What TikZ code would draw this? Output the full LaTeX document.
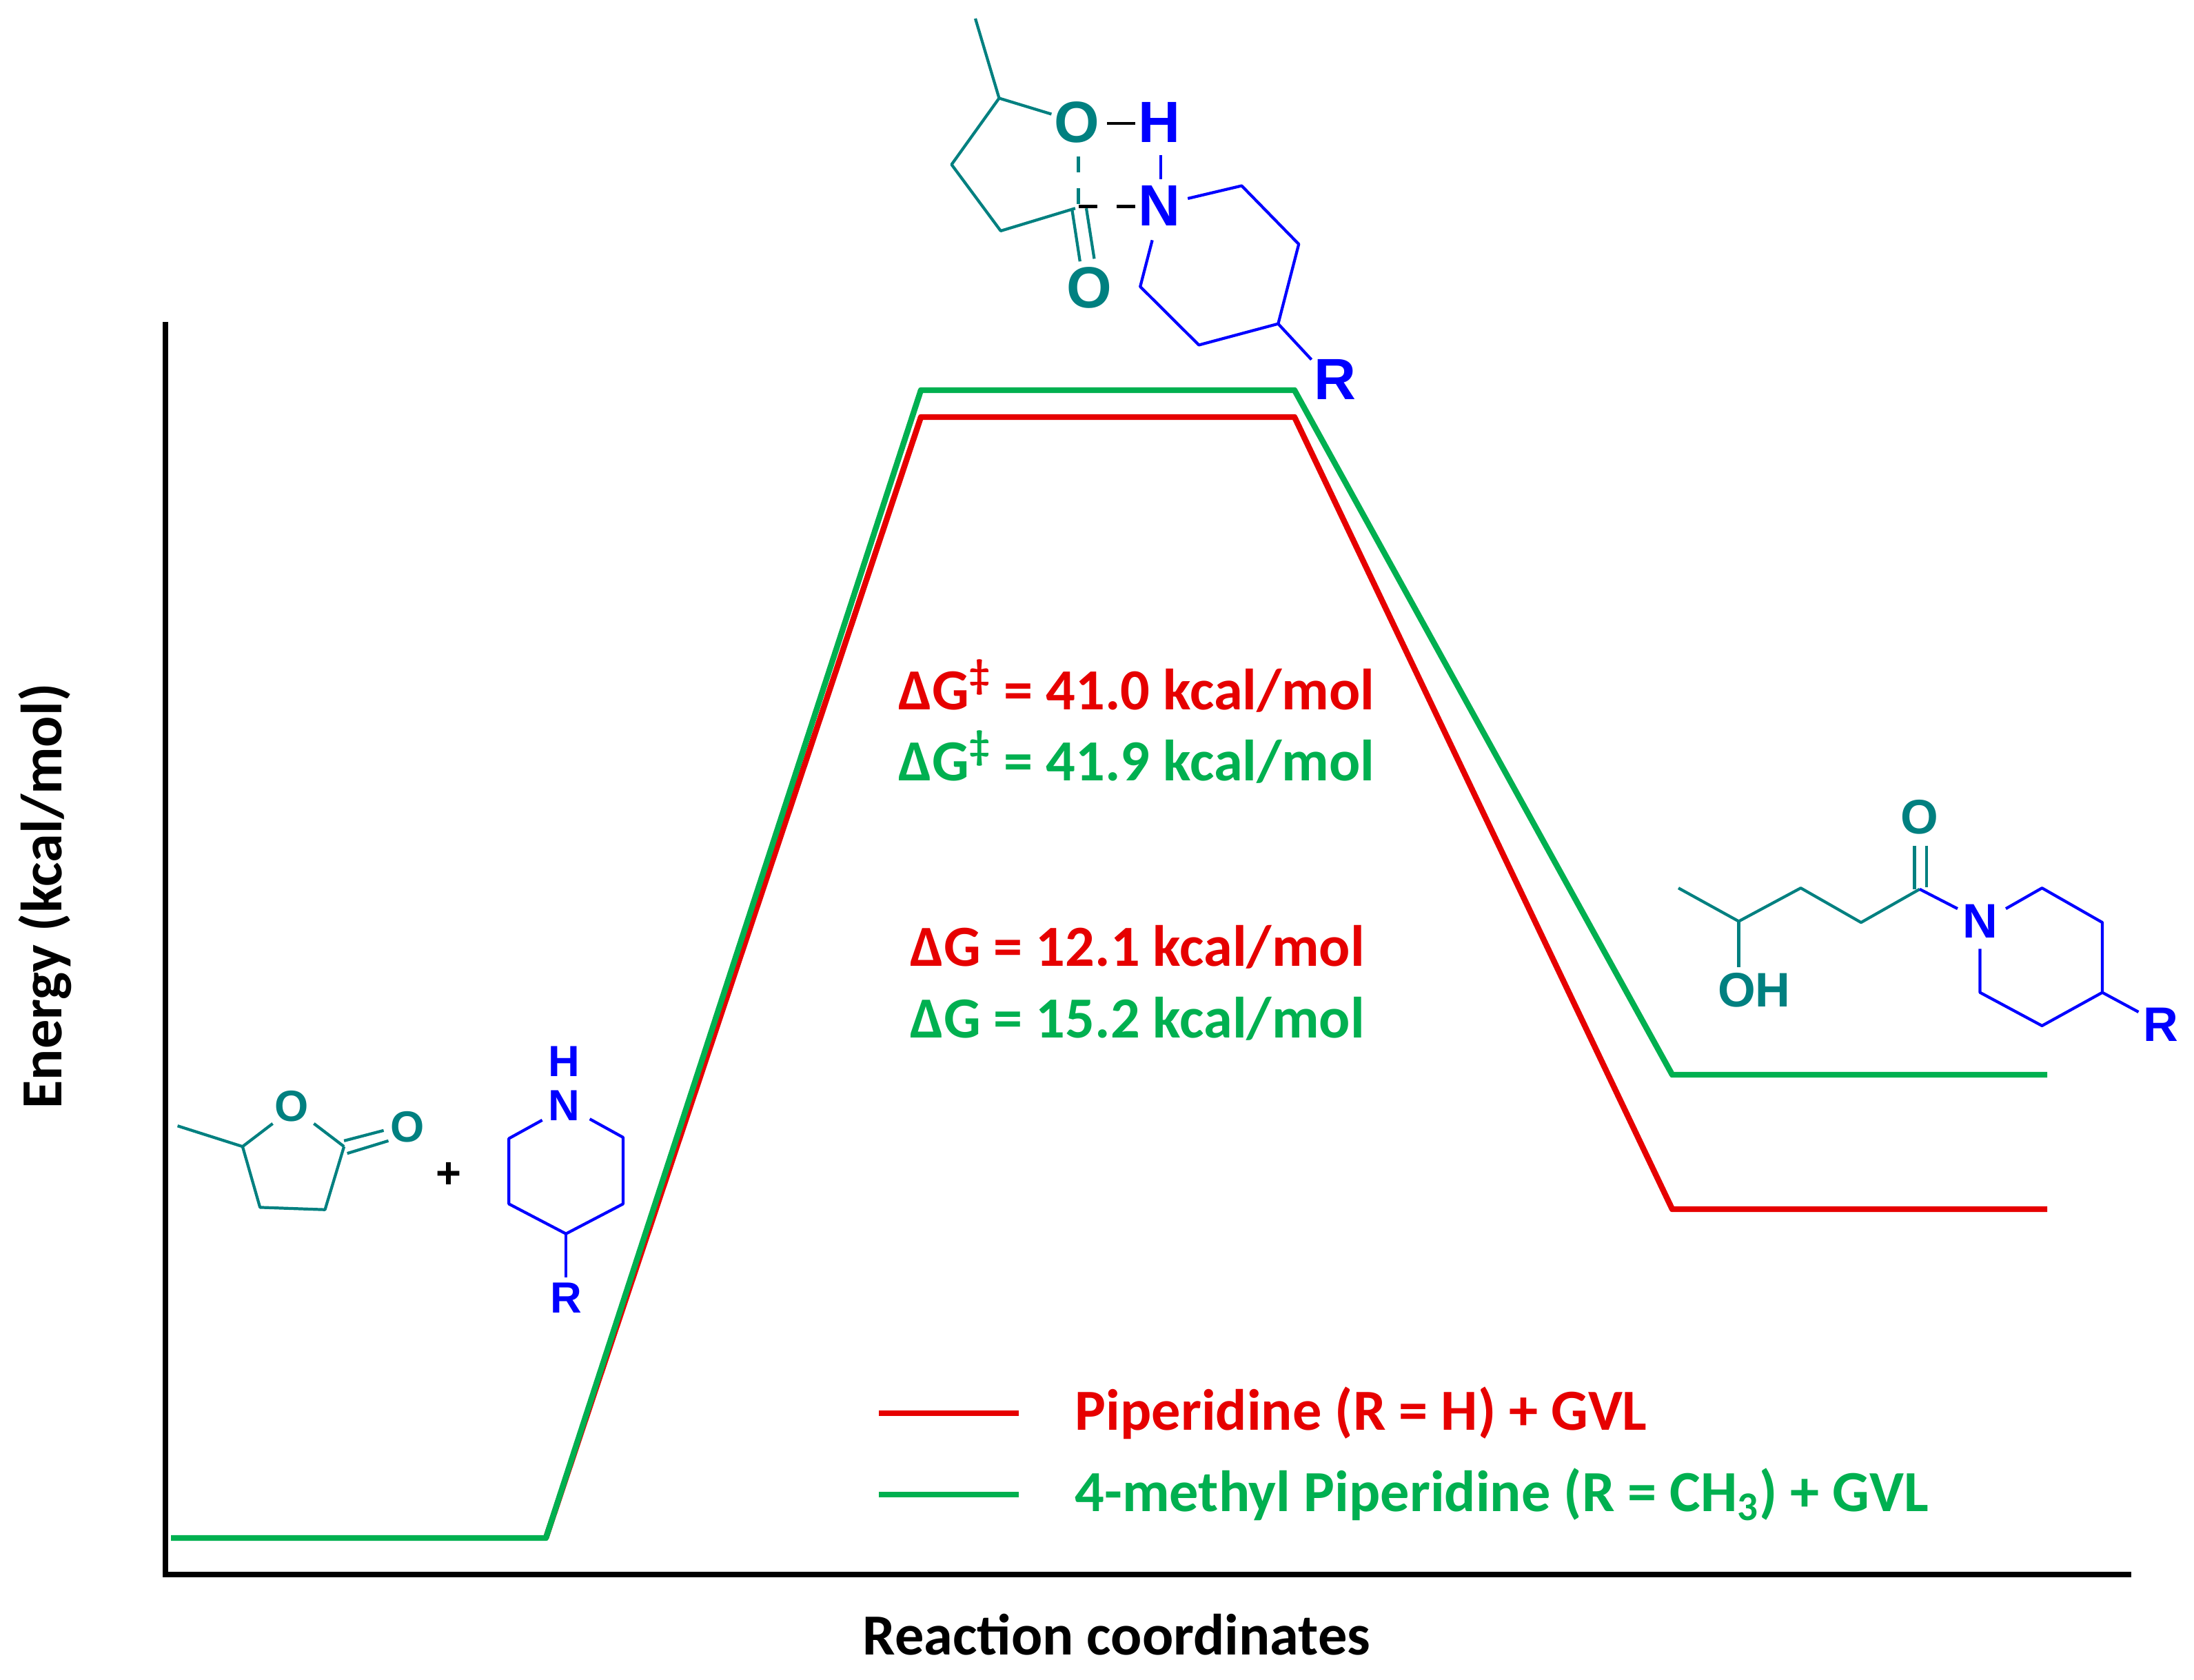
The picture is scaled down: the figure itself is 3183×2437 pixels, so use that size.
\documentclass[tikz,border=0pt]{standalone}
\usepackage{fontspec}
\setmainfont{Carlito}
\newfontfamily\arialb{Liberation Sans}[BoldFont={Liberation Sans Bold}]
\definecolor{teal1}{RGB}{0,128,128}
\definecolor{blue1}{RGB}{0,0,255}
\definecolor{red1}{RGB}{230,0,0}
\definecolor{green1}{RGB}{0,176,80}
\begin{document}
\begin{tikzpicture}[x=0.01cm,y=-0.01cm,
  axis/.style={line width=2.4pt,black},
  prof/.style={line width=2.4pt},
  bt/.style={teal1,line width=1.2pt},
  bb/.style={blue1,line width=1.2pt},
  lab/.style={font=\arialb\bfseries\fontsize{24}{24}\selectfont,inner sep=0pt},
  labs/.style={font=\arialb\bfseries\fontsize{18}{18}\selectfont,inner sep=0pt},
  labm/.style={font=\arialb\bfseries\fontsize{20}{20}\selectfont,inner sep=0pt},
  txt/.style={font=\bfseries\fontsize{24}{24}\selectfont,inner sep=0pt}]
\path[use as bounding box,fill=white] (0,0) rectangle (3183,2437);
% axes
\coordinate (ytop) at (240,467);
\coordinate (orig) at (240,2284);
\coordinate (xend) at (3092,2284);
\draw[axis] (ytop) -- (orig) -- (xend);
\node[txt,rotate=90] (ylab) at (65,1300) {Energy (kcal/mol)};
\node[txt] (xlab) at (1620,2371) {Reaction coordinates};
% profiles
\coordinate (s0) at (248,2231);
\coordinate (s1) at (792,2231);
\coordinate (r2) at (1336,605);
\coordinate (r3) at (1878,605);
\coordinate (r4) at (2426,1754);
\coordinate (r5) at (2970,1754);
\coordinate (g2) at (1336,566);
\coordinate (g3) at (1878,566);
\coordinate (g4) at (2426,1559);
\coordinate (g5) at (2970,1559);
\draw[prof,red1,line join=round] (s1) -- (r2) -- (r3) -- (r4) -- (r5);
\draw[prof,green1,line join=round] (s0) -- (s1) -- (g2) -- (g3) -- (g4) -- (g5);
% energies
\node[txt,red1] (t1) at (1649,995) {ΔG\textsuperscript{‡} = 41.0 kcal/mol};
\node[txt,green1] (t2) at (1649,1098) {ΔG\textsuperscript{‡} = 41.9 kcal/mol};
\node[txt,red1] (t3) at (1650,1374) {ΔG = 12.1 kcal/mol};
\node[txt,green1] (t4) at (1650,1478) {ΔG = 15.2 kcal/mol};
% legend
\coordinate (la) at (1275,2050); \coordinate (lb) at (1478,2050);
\coordinate (lc) at (1275,2168); \coordinate (ld) at (1478,2168);
\draw[prof,red1] (la) -- (lb);
\draw[prof,green1] (lc) -- (ld);
\node[txt,red1,anchor=west] (l1) at (1559,2050) {Piperidine (R = H) + GVL};
\node[txt,green1,anchor=west] (l2) at (1559,2168) {4-methyl Piperidine (R = CH\textsubscript{3}) + GVL};
% transition state
\begin{scope}[shift={(1300,0)},xscale=0.46,yscale=0.385]
\draw[bt,line join=round] (250,70) -- (325,370) -- (175,620) -- (330,870) -- (565,785);
\draw[bt] (325,370) -- (490,430);
\draw[bt] (575,590) -- (575,650);
\draw[bt] (575,710) -- (575,770);
\draw[bt] (555,790) -- (580,985);
\draw[bt] (600,785) -- (625,975);
\draw[black,line width=1.2pt] (665,465) -- (755,465);
\draw[black,line width=1.2pt] (575,778) -- (635,778);
\draw[black,line width=1.2pt] (695,778) -- (755,778);
\draw[bb] (835,585) -- (835,675);
\draw[bb,line join=round] (920,748) -- (1090,700) -- (1270,920) -- (1205,1220) -- (955,1300) -- (770,1080) -- (808,905);
\draw[bb] (1205,1220) -- (1310,1355);
\node[lab,teal1] (tsO1) at (570,460) {O};
\node[lab,blue1] (tsH) at (830,460) {H};
\node[lab,blue1] (tsN) at (830,775) {N};
\node[lab,teal1] (tsO2) at (610,1085) {O};
\node[lab,blue1] (tsR) at (1385,1430) {R};
\end{scope}
% product
\begin{scope}[shift={(2400,1130)},xscale=0.5,yscale=0.333]
\draw[bt,line join=round] (70,475) -- (245,620) -- (425,475) -- (600,625) -- (770,480);
\draw[bt] (245,620) -- (245,820);
\draw[bt] (755,290) -- (755,480);
\draw[bt] (790,290) -- (790,470);
\draw[bb] (770,480) -- (880,565);
\draw[bb,line join=round] (1020,565) -- (1125,475) -- (1300,625) -- (1300,930) -- (1125,1075) -- (945,930) -- (945,740);
\draw[bb] (1300,930) -- (1405,1015);
\node[labm,teal1] (pO) at (770,165) {O};
\node[labm,teal1] (pOH) at (290,920) {OH};
\node[labm,blue1] (pN) at (945,620) {N};
\node[labm,blue1] (pR) at (1470,1070) {R};
\end{scope}
% reactants
\begin{scope}[shift={(230,1500)},xscale=0.46,yscale=0.333]
\draw[bt] (60,400) -- (265,490);
\draw[bt] (265,490) -- (360,390);
\draw[bt] (490,390) -- (585,490);
\draw[bt,line join=round] (265,490) -- (320,755) -- (525,765) -- (585,490);
\draw[bt] (585,465) -- (710,420);
\draw[bt] (595,520) -- (725,465);
\draw[bb,line join=round] (1210,375) -- (1105,455) -- (1105,740) -- (1285,870) -- (1465,740) -- (1465,450) -- (1360,370);
\draw[bb] (1285,870) -- (1285,1060);
\node[labs,teal1] (gO1) at (420,315) {O};
\node[labs,teal1] (gO2) at (785,405) {O};
\node[labs,black] (plus) at (915,615) {+};
\node[labs,blue1] (aH) at (1280,120) {H};
\node[labs,blue1] (aN) at (1280,310) {N};
\node[labs,blue1] (aR) at (1285,1150) {R};
\end{scope}
\end{tikzpicture}
\end{document}
